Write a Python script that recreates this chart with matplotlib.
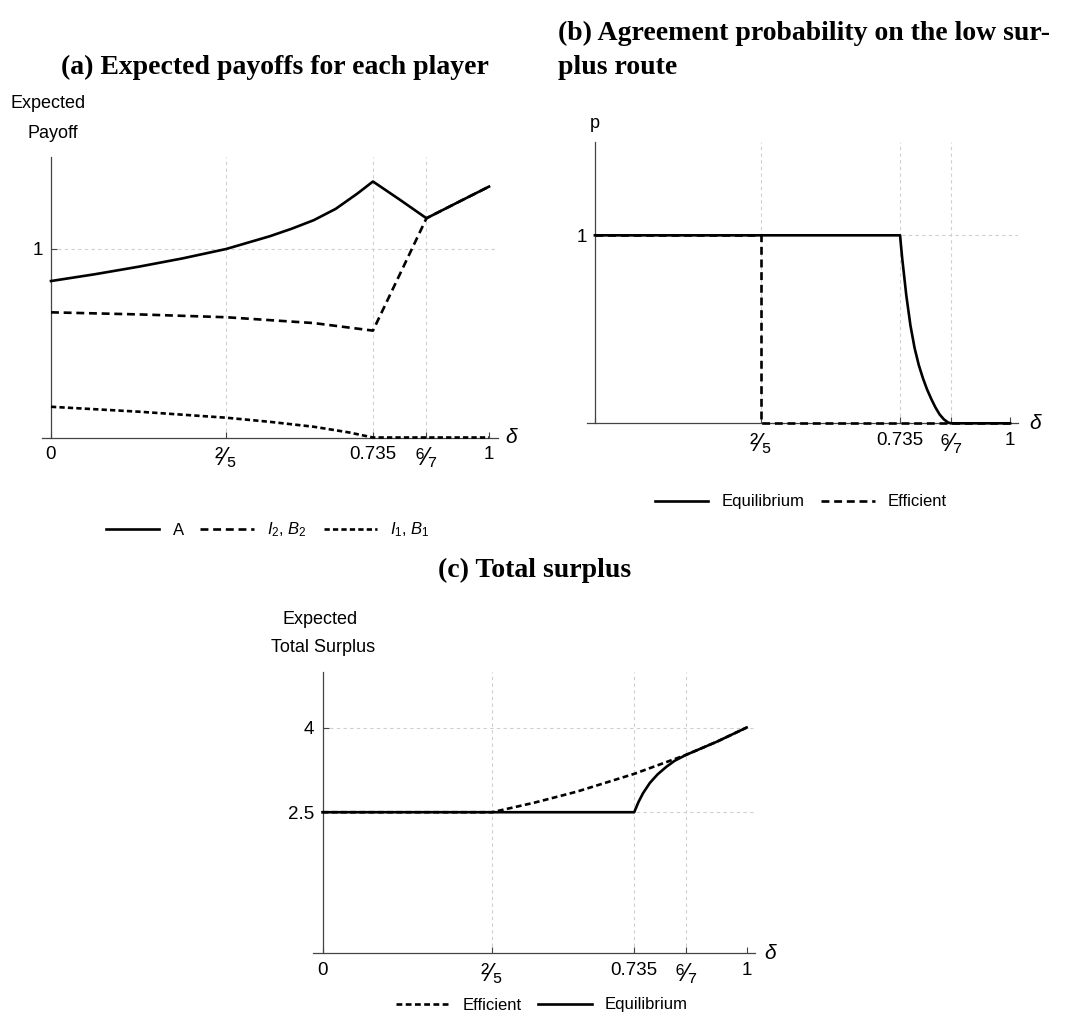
import matplotlib
matplotlib.use("Agg")
import matplotlib.pyplot as plt
from matplotlib.lines import Line2D

plt.rcParams['font.family'] = ['Liberation Sans', 'DejaVu Sans']
plt.rcParams['mathtext.fontset'] = 'custom'
plt.rcParams['mathtext.rm'] = 'Liberation Sans'
plt.rcParams['mathtext.it'] = 'Liberation Sans:italic'

# ---------------- data ----------------
x_ticks = [0, 0.4, 0.735, 6/7, 1]
x_ticklabels = ['0', '²⁄₅', '0.735', '⁶⁄₇', '1']
x_ticklabels_b = ['', '²⁄₅', '0.735', '⁶⁄₇', '1']

# (a) expected payoffs
a_delta = [0, 0.1, 0.2, 0.3, 0.4, 0.5, 0.55, 0.6, 0.65, 0.7, 0.735, 0.796, 6/7, 0.93, 1]
a_A = [0.83, 0.866, 0.906, 0.950, 1.0, 1.068, 1.108, 1.153, 1.213, 1.295, 1.358,
       1.262, 1.163, 1.249, 1.331]
a_I2_delta = [0, 0.2, 0.4, 0.6, 0.735, 0.797, 6/7, 0.93, 1]
a_I2 = [0.664, 0.653, 0.638, 0.607, 0.567, 0.869, 1.163, 1.249, 1.331]
a_I1_delta = [0, 0.2, 0.4, 0.5, 0.6, 0.68, 0.735, 6/7, 1]
a_I1 = [0.163, 0.137, 0.105, 0.083, 0.057, 0.027, 0.0, 0.0, 0.0]

# (b) agreement probability
b_eq_delta = [0, 0.735, 0.737, 0.740, 0.745, 0.750, 0.760, 0.770, 0.780, 0.790,
              0.800, 0.810, 0.820, 0.830, 0.840, 0.850, 6/7, 1]
b_eq = [1, 1, 0.95, 0.88, 0.78, 0.68, 0.52, 0.40, 0.31, 0.24,
        0.18, 0.13, 0.085, 0.048, 0.022, 0.005, 0, 0]
b_eff_delta = [0, 0.4, 0.4, 1]
b_eff = [1, 1, 0, 0]

# (c) total surplus
c_eff_delta = [0, 0.4, 0.5, 0.6, 0.735, 6/7, 0.93, 1]
c_eff = [2.5, 2.5, 2.67, 2.865, 3.18, 3.516, 3.75, 4.0]
c_eq_delta = [0, 0.735, 0.745, 0.756, 0.772, 0.790, 0.810, 0.830, 6/7, 0.93, 1]
c_eq = [2.5, 2.5, 2.68, 2.84, 3.02, 3.17, 3.30, 3.41, 3.516, 3.75, 4.0]

W, H = 1090, 1017
fig = plt.figure(figsize=(W/100, H/100), dpi=100)

def ax_px(l, r, top, bot):
    return fig.add_axes([l/W, 1 - bot/H, (r - l)/W, (bot - top)/H])

GRID = dict(color='#cfcfcf', lw=0.8, dashes=(3, 3), zorder=0)
LW = 1.9
TICKFS = 13.5
FRACFS = 18

def style(ax, xlim, ylim, yticks, yticklabels, labels, grid_y, grid_x):
    ax.set_xlim(*xlim)
    ax.set_ylim(*ylim)
    for s in ['top', 'right']:
        ax.spines[s].set_visible(False)
    ax.spines['left'].set_position(('data', 0))
    for s in ['left', 'bottom']:
        ax.spines[s].set_color('#444444')
        ax.spines[s].set_linewidth(0.9)
    ax.set_xticks(x_ticks)
    ax.set_xticklabels(labels, fontsize=TICKFS)
    for t in ax.get_xticklabels():
        if '⁄' in t.get_text():
            t.set_fontsize(FRACFS)
    ax.set_yticks(yticks)
    ax.set_yticklabels(yticklabels, fontsize=TICKFS)
    ax.tick_params(direction='in', length=4, width=0.8, color='#444444', pad=6)
    for gx in grid_x:
        ax.plot([gx, gx], [0, ylim[1]], **GRID)
    for gy in grid_y:
        ax.plot([0, xlim[1]], [gy, gy], **GRID)
    ax.patch.set_alpha(0)

# ---------------- (a) ----------------
axa = ax_px(41.8, 497.8, 157, 437.5)
style(axa, (-0.021, 1.02), (0, 1.488), [1], ['1'], x_ticklabels, [1], [0.4, 0.735, 6/7])
axa.plot(a_I1_delta, a_I1, color='black', lw=LW, dashes=(2.0, 1.2), clip_on=False, zorder=3)
axa.plot(a_I2_delta, a_I2, color='black', lw=LW, dashes=(3.0, 1.8), clip_on=False, zorder=3)
axa.plot(a_delta, a_A, color='black', lw=LW, clip_on=False, zorder=4)
axa.text(1.05, 0, 'δ', fontsize=15, fontstyle='italic', ha='center', va='center')
fig.text(48/W, 1 - 104/H, 'Expected', fontsize=13, ha='center', va='center')
fig.text(53/W, 1 - 133/H, 'Payoff', fontsize=13, ha='center', va='center')

# ---------------- (b) ----------------
axb = ax_px(587, 1018, 141.7, 423.3)
style(axb, (-0.019, 1.019), (0, 1.498), [1], ['1'], x_ticklabels_b, [1], [0.4, 0.735, 6/7])
axb.plot(b_eff_delta, b_eff, color='black', lw=LW, dashes=(3.0, 1.8), clip_on=False, zorder=3)
axb.plot(b_eq_delta, b_eq, color='black', lw=LW, clip_on=False, zorder=4)
axb.text(1.06, 0, 'δ', fontsize=15, fontstyle='italic', ha='center', va='center')
fig.text(595/W, 1 - 123/H, 'p', fontsize=13, ha='center', va='center')

# ---------------- (c) ----------------
axc = ax_px(313.3, 755, 671.7, 953.3)
style(axc, (-0.0217, 1.0198), (0, 4.99), [2.5, 4], ['2.5', '4'], x_ticklabels, [2.5, 4], [0.4, 0.735, 6/7])
axc.plot(c_eff_delta, c_eff, color='black', lw=LW, dashes=(2.2, 1.3), clip_on=False, zorder=3)
axc.plot(c_eq_delta, c_eq, color='black', lw=LW, clip_on=False, zorder=4)
axc.text(1.055, 0, 'δ', fontsize=15, fontstyle='italic', ha='center', va='center')
fig.text(320/W, 1 - 619/H, 'Expected', fontsize=13, ha='center', va='center')
fig.text(323/W, 1 - 648/H, 'Total Surplus', fontsize=13, ha='center', va='center')

# ---------------- titles ----------------
TFONT = dict(family=['Liberation Serif', 'DejaVu Serif'], fontweight='bold', fontsize=20)
fig.text(275/W, 1 - 67/H, '(a) Expected payoffs for each player', ha='center', va='center', **TFONT)
fig.text(558/W, 1 - 33/H, '(b) Agreement probability on the low sur-', ha='left', va='center', **TFONT)
fig.text(558/W, 1 - 67/H, 'plus route', ha='left', va='center', **TFONT)
fig.text(535/W, 1 - 570/H, '(c) Total surplus', ha='center', va='center', **TFONT)

# ---------------- legends ----------------
LEGKW = dict(frameon=False, fontsize=12, handlelength=3.2, handletextpad=0.8,
             columnspacing=1.0, loc='center', borderaxespad=0, borderpad=0)
ha_ = [Line2D([], [], color='black', lw=LW),
       Line2D([], [], color='black', lw=LW, dashes=(3.0, 1.8)),
       Line2D([], [], color='black', lw=LW, dashes=(2.0, 1.2))]
fig.legend(ha_, ['A', '$I_2$, $B_2$', '$I_1$, $B_1$'], ncol=3,
           bbox_to_anchor=(268/W, 1 - 530/H), **LEGKW)
hb_ = [Line2D([], [], color='black', lw=LW),
       Line2D([], [], color='black', lw=LW, dashes=(3.0, 1.8))]
fig.legend(hb_, ['Equilibrium', 'Efficient'], ncol=2,
           bbox_to_anchor=(801/W, 1 - 502/H), **LEGKW)
hc_ = [Line2D([], [], color='black', lw=LW, dashes=(2.2, 1.3)),
       Line2D([], [], color='black', lw=LW)]
fig.legend(hc_, ['Efficient', 'Equilibrium'], ncol=2,
           bbox_to_anchor=(542/W, 1 - 1005/H), **LEGKW)

fig.savefig('out.png', dpi=100, facecolor='white')
